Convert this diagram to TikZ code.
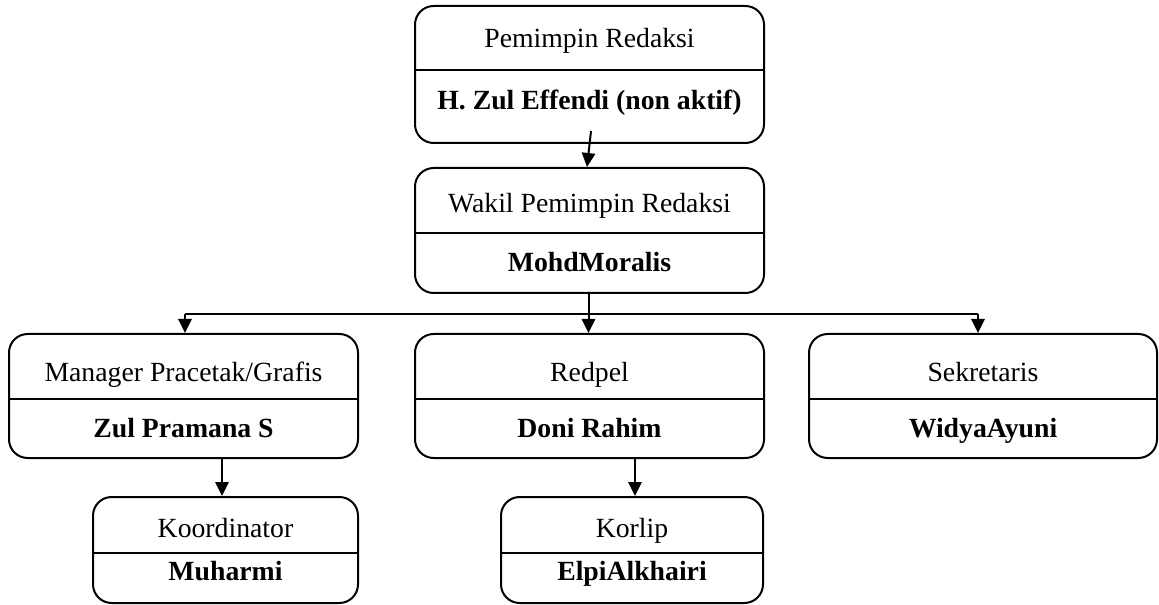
\documentclass[tikz,border=0pt]{standalone}
\usepackage{fontspec}
\setmainfont{Liberation Serif}
\usetikzlibrary{arrows.meta,calc}
\begin{document}
\begin{tikzpicture}[x=0.75pt,y=-0.75pt,
  box/.style={draw,line width=1.5pt,rounded corners=14pt,inner sep=0pt},
  lbl/.style={font=\fontsize{20.8}{25}\selectfont,anchor=base,inner sep=0pt},
  nm/.style={font=\fontsize{20.8}{25}\selectfont\bfseries,anchor=base,inner sep=0pt},
  div/.style={line width=1.2pt},
  arr/.style={line width=1.5pt,-{Triangle[length=10.5pt,width=10pt]}},
  ln/.style={line width=1.2pt}]
\useasboundingbox (0,0) rectangle (1159,605);
% boxes
\node[box,minimum width=261.75pt,minimum height=102.75pt] (top) at (589.5,74.5) {};
\node[box,minimum width=261.75pt,minimum height=93.75pt] (wakil) at (589.5,230.5) {};
\node[box,minimum width=261.75pt,minimum height=93pt] (mgr) at (183.5,396) {};
\node[box,minimum width=261.75pt,minimum height=93pt] (redpel) at (589.5,396) {};
\node[box,minimum width=261pt,minimum height=93pt] (sekr) at (983,396) {};
\node[box,minimum width=198.75pt,minimum height=79.5pt] (koord) at (225.5,550) {};
\node[box,minimum width=196.5pt,minimum height=79.5pt] (korlip) at (632,550) {};
% dividers
\coordinate (d1) at (0,70);
\coordinate (d2) at (0,233);
\coordinate (d3) at (0,399);
\coordinate (d4) at (0,553);
\draw[div] (top.west |- d1) -- (top.east |- d1);
\draw[div] (wakil.west |- d2) -- (wakil.east |- d2);
\draw[div] (mgr.west |- d3) -- (mgr.east |- d3);
\draw[div] (redpel.west |- d3) -- (redpel.east |- d3);
\draw[div] (sekr.west |- d3) -- (sekr.east |- d3);
\draw[div] (koord.west |- d4) -- (koord.east |- d4);
\draw[div] (korlip.west |- d4) -- (korlip.east |- d4);
% texts
\node[lbl] (t1) at (589.5,48) {Pemimpin Redaksi};
\node[nm] (n1) at (589.5,110) {H. Zul Effendi (non aktif)};
\node[lbl] (t2) at (589.5,213) {Wakil Pemimpin Redaksi};
\node[nm] (n2) at (589.5,272) {MohdMoralis};
\node[lbl] (t3) at (183.5,382) {Manager Pracetak/Grafis};
\node[nm] (n3) at (183.5,437) {Zul Pramana S};
\node[lbl] (t4) at (589.5,382) {Redpel};
\node[nm] (n4) at (589.5,437) {Doni Rahim};
\node[lbl] (t5) at (983,382) {Sekretaris};
\node[nm] (n5) at (983,437) {WidyaAyuni};
\node[lbl] (t6) at (225.5,537) {Koordinator};
\node[nm] (n6) at (225.5,580) {Muharmi};
\node[lbl] (t7) at (632,537) {Korlip};
\node[nm] (n7) at (632,580) {ElpiAlkhairi};
% connectors
\draw[arr] ($(top.south)+(1.5,-13)$) -- ($(wakil.north)+(-2.5,0)$);
\coordinate (bl) at (185,314);
\coordinate (br) at (978,314);
\draw[ln] (bl) -- (br);
\draw[arr] ($(wakil.south)+(-1,0)$) -- ($(redpel.north)+(-1,0)$);
\draw[arr] (bl) -- (bl |- mgr.north);
\draw[arr] (br) -- (br |- sekr.north);
\draw[arr] ($(mgr.south)+(38.5,0)$) -- ($(koord.north)+(-3.5,0)$);
\draw[arr] ($(redpel.south)+(45.5,0)$) -- ($(korlip.north)+(3,0)$);
\end{tikzpicture}
\end{document}
